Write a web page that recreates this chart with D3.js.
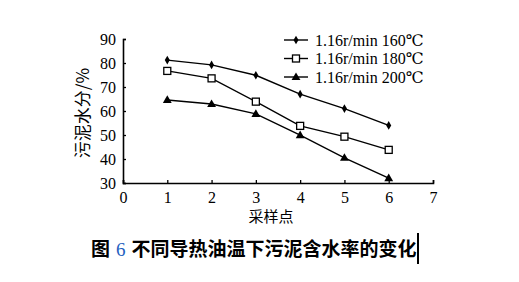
<!DOCTYPE html>
<html>
<head>
<meta charset="utf-8">
<script src="https://cdn.jsdelivr.net/npm/d3@7"></script>
<style>
  body { margin: 0; background: #fff; }
  svg { display: block; }
  .serif { font-family: "Liberation Serif", "DejaVu Serif", serif; }
</style>
</head>
<body>
<script>
const width = 519;
const height = 282;

// data
const samplePoints = [1, 2, 3, 4, 5, 6];
const series160 = [81.2, 79.2, 74.9, 67.0, 61.0, 54.0];
const series180 = [76.7, 73.6, 63.9, 53.8, 49.3, 43.8];
const series200 = [64.6, 62.9, 58.8, 49.9, 40.5, 32.0];
const seriesNames = ["1.16r/min 160℃", "1.16r/min 180℃", "1.16r/min 200℃"];
const xTicks = [0, 1, 2, 3, 4, 5, 6, 7];
const yTicks = [30, 40, 50, 60, 70, 80, 90];

const cjkFont = "Noto Sans CJK SC";

let svg = d3.select("body")
    .append("svg")
    .attr("width", width)
    .attr("height", height);

let x = d3.scaleLinear().domain([0, 7]).range([123, 433]);
let y = d3.scaleLinear().domain([30, 90]).range([183, 39]);

// axes, ticks drawn inward
let xAxis = svg.append("g")
    .attr("transform", "translate(0," + y(30) + ")")
    .call(d3.axisBottom(x).tickValues(xTicks).tickSize(-3).tickPadding(9).tickFormat(d3.format("d")));
let yAxis = svg.append("g")
    .attr("transform", "translate(" + x(0) + ",0)")
    .call(d3.axisLeft(y).tickValues(yTicks).tickSize(-3).tickPadding(7).tickFormat(d3.format("d")));

[xAxis, yAxis].forEach(ax => {
    ax.attr("font-family", null).attr("font-size", null);
    ax.select(".domain").attr("stroke", "#000").attr("stroke-width", 1.6);
    ax.selectAll(".tick line").attr("stroke", "#000").attr("stroke-width", 1.3);
    ax.selectAll(".tick text")
        .attr("class", "serif")
        .attr("fill", "#000")
        .attr("font-size", 16);
});
xAxis.selectAll(".tick text").attr("dy", "0.7em");

// axis titles
svg.append("text")
    .attr("x", 271)
    .attr("y", 222)
    .attr("text-anchor", "middle")
    .attr("font-family", cjkFont)
    .attr("font-size", 15)
    .text("采样点");

svg.append("text")
    .attr("transform", "translate(89,113) rotate(-90)")
    .attr("text-anchor", "middle")
    .attr("font-family", cjkFont)
    .attr("font-size", 17)
    .text("污泥水分/%");

// markers
const drawMarker = (g, kind, cx, cy) => {
    if (kind === 0) {
        g.append("path")
            .attr("d", d3.symbol().type(d3.symbolDiamond).size(22)())
            .attr("transform", "translate(" + cx + "," + cy + ")")
            .attr("fill", "#000");
    } else if (kind === 1) {
        g.append("rect")
            .attr("x", cx - 3.5).attr("y", cy - 3.5)
            .attr("width", 7).attr("height", 7)
            .attr("fill", "#fff")
            .attr("stroke", "#000")
            .attr("stroke-width", 1.3);
    } else {
        g.append("path")
            .attr("d", d3.symbol().type(d3.symbolTriangle).size(34)())
            .attr("transform", "translate(" + cx + "," + (cy + 0.5) + ")")
            .attr("fill", "#000");
    }
};

const allSeries = [series160, series180, series200];
let line = d3.line()
    .x((d, i) => x(samplePoints[i]))
    .y(d => y(d));

allSeries.forEach((values, k) => {
    let g = svg.append("g");
    g.append("path")
        .datum(values)
        .attr("d", line)
        .attr("fill", "none")
        .attr("stroke", "#000")
        .attr("stroke-width", 1.4);
    values.forEach((v, i) => drawMarker(g, k, x(samplePoints[i]), y(v)));
});

// legend
seriesNames.forEach((name, k) => {
    let ly = 40 + k * 18.5;
    let g = svg.append("g");
    g.append("line")
        .attr("x1", 284).attr("x2", 308)
        .attr("y1", ly).attr("y2", ly)
        .attr("stroke", "#000")
        .attr("stroke-width", 1.4);
    drawMarker(g, k, 296, ly);
    g.append("text")
        .attr("class", "serif")
        .attr("x", 315)
        .attr("y", ly + 5.5)
        .attr("font-size", 16)
        .text(name);
});

// caption
let caption = svg.append("text")
    .attr("y", 256)
    .attr("font-family", cjkFont)
    .attr("font-size", 19)
    .attr("font-weight", "bold");
caption.append("tspan").attr("x", 91).text("图");
caption.append("tspan")
    .attr("x", 116)
    .attr("class", "serif")
    .attr("fill", "#1f5fbf")
    .attr("font-weight", "normal")
    .text("6");
caption.append("tspan").attr("x", 131.5).text("不同导热油温下污泥含水率的变化");

// text cursor after caption
svg.append("line")
    .attr("x1", 418).attr("x2", 418)
    .attr("y1", 233).attr("y2", 264)
    .attr("stroke", "#000")
    .attr("stroke-width", 2);
</script>
</body>
</html>
